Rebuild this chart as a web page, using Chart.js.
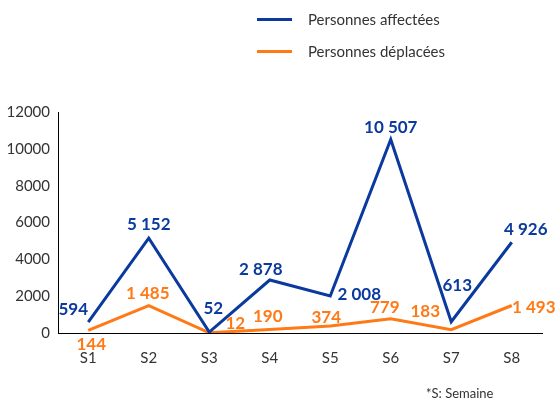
<!DOCTYPE html>
<html>
<head>
<meta charset="utf-8">
<script src="https://cdn.jsdelivr.net/npm/chart.js@4"></script>
<style>
  body { margin: 0; background: #fff; font-family: Lato, "Noto Sans", sans-serif; }
  #wrap { position: relative; width: 560px; height: 405px; }
  #legend { position: absolute; left: 257px; top: 3px; color: #333; font-size: 15px; }
  .item { display: flex; align-items: center; height: 32px; }
  .swatch { width: 35px; height: 3px; margin-right: 16px; }
  #note { position: absolute; left: 426px; top: 385px; font-size: 13px; color: #333; }
</style>
</head>
<body>
<div id="wrap">
  <canvas id="chart" width="560" height="405"></canvas>
  <div id="legend">
    <div class="item"><span class="swatch" style="background:#0b3a9f"></span>Personnes affectées</div>
    <div class="item"><span class="swatch" style="background:#ff7a17"></span>Personnes déplacées</div>
  </div>
  <div id="note">*S: Semaine</div>
</div>
<script>
// data
const weeks = ['S1', 'S2', 'S3', 'S4', 'S5', 'S6', 'S7', 'S8'];
const affectees = [594, 5152, 52, 2878, 2008, 10507, 613, 4926];
const deplacees = [144, 1485, 12, 190, 374, 779, 183, 1493];
const yTicks = [0, 2000, 4000, 6000, 8000, 10000, 12000];

// label offsets (px) from each point
const offAff = [[-15, -13], [0, -14], [4, -24], [-9, -10], [29, -2], [0, -12], [6, -36], [14, -13]];
const offDep = [[3, 14], [-1, -12], [26, -9], [-2, -13], [-4, -9], [-6, -11], [-26, -18], [22, 2]];

function fmt(v) {
    return String(v).replace(/\B(?=(\d{3})+(?!\d))/g, ' ');
}

const valueLabels = {
    id: 'valueLabels',
    afterDatasetsDraw(chart) {
        const ctx = chart.ctx;
        ctx.save();
        ctx.font = 'bold 17px Lato, "Noto Sans", sans-serif';
        ctx.textAlign = 'center';
        ctx.textBaseline = 'middle';
        chart.data.datasets.forEach((ds, di) => {
            const meta = chart.getDatasetMeta(di);
            const offs = di === 0 ? offAff : offDep;
            ctx.fillStyle = ds.borderColor;
            meta.data.forEach((pt, i) => {
                ctx.fillText(fmt(ds.data[i]), pt.x + offs[i][0], pt.y + offs[i][1]);
            });
        });
        ctx.restore();
    }
};

new Chart(document.getElementById('chart'), {
    type: 'line',
    data: {
        labels: weeks,
        datasets: [
            {
                label: 'Personnes affectées',
                data: affectees,
                borderColor: '#0b3a9f',
                borderWidth: 3,
                pointRadius: 0,
                tension: 0
            },
            {
                label: 'Personnes déplacées',
                data: deplacees,
                borderColor: '#ff7a17',
                borderWidth: 3,
                pointRadius: 0,
                tension: 0
            }
        ]
    },
    options: {
        responsive: false,
        animation: false,
        layout: { padding: { top: 112, right: 18, bottom: 22, left: 0 } },
        plugins: {
            legend: { display: false },
            tooltip: { enabled: false }
        },
        scales: {
            x: {
                offset: true,
                grid: { color: 'rgba(0,0,0,0)', drawTicks: false },
                border: { display: true, color: '#000', width: 1 },
                ticks: { color: '#333', font: { size: 15, family: 'Lato' }, padding: 16 }
            },
            y: {
                min: 0,
                max: 12000,
                afterBuildTicks: s => { s.ticks = yTicks.map(v => ({ value: v })); },
                afterFit: s => { s.width = 58; },
                grid: { color: 'rgba(0,0,0,0)', drawTicks: false },
                border: { display: true, color: '#000', width: 1 },
                ticks: {
                    color: '#333',
                    font: { size: 15, family: 'Lato' },
                    padding: 8,
                    callback: v => String(v)
                }
            }
        }
    },
    plugins: [valueLabels]
});
</script>
</body>
</html>
